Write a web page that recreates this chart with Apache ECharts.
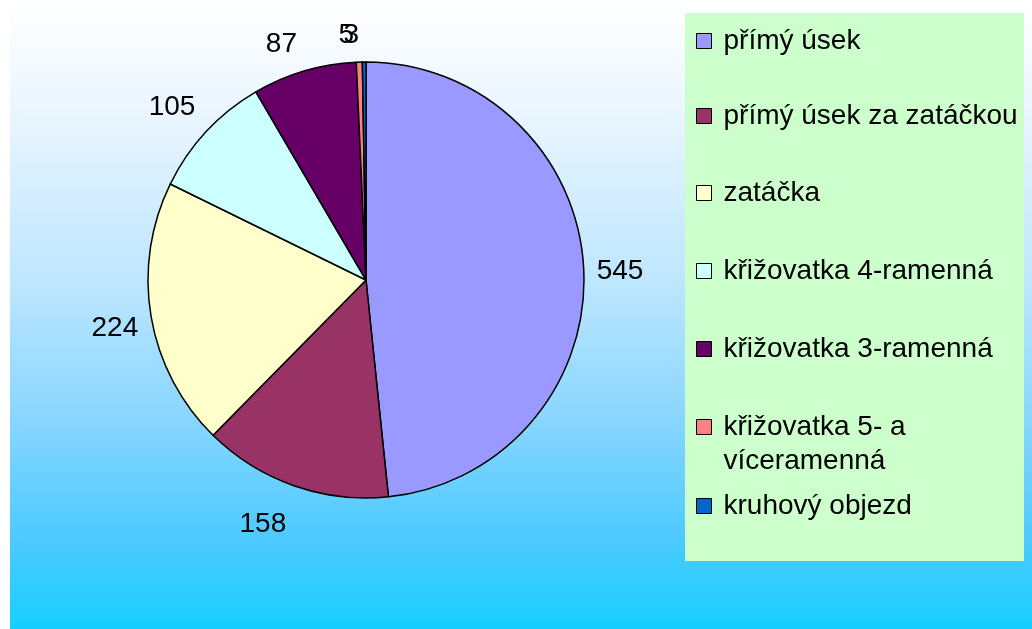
<!DOCTYPE html>
<html>
<head>
<meta charset="utf-8">
<script src="https://cdn.jsdelivr.net/npm/echarts@6/dist/echarts.min.js"></script>
<style>
html,body{margin:0;padding:0;background:#fff;}
#chart{width:1032px;height:629px;}
</style>
</head>
<body>
<div id="chart"></div>
<script>
// ---- data ----
const categories = [
  'přímý úsek',
  'přímý úsek za zatáčkou',
  'zatáčka',
  'křižovatka 4-ramenná',
  'křižovatka 3-ramenná',
  'křižovatka 5- a\nvíceramenná',
  'kruhový objezd'
];
const values = [545, 158, 224, 105, 87, 5, 3];

// ---- styles ----
const colors = ['#9999ff', '#993366', '#ffffcc', '#ccffff', '#660066', '#ff8080', '#0066cc'];
const FONT = 'Liberation Sans, Arial, sans-serif';
const FS = 28;
const CX = 366, CY = 280, R = 218;
const legendCenters = [41, 116, 193, 271, 349, 427, 506];
const LH = 34;

const chart = echarts.init(document.getElementById('chart'));

const legends = categories.map((name, i) => {
  const twoLine = name.indexOf('\n') >= 0;
  return {
    data: [name],
    left: 696,
    top: twoLine ? legendCenters[i] - LH * 1.5 : legendCenters[i] - LH / 2,
    orient: 'vertical',
    padding: 0,
    itemWidth: 15,
    itemHeight: 15,
    icon: 'rect',
    selectedMode: false,
    formatter: twoLine ? (n => '\n' + n) : '{name}',
    itemStyle: { borderColor: '#000', borderWidth: 1 },
    textStyle: {
      fontFamily: FONT,
      fontSize: FS,
      color: '#000',
      lineHeight: LH,
      padding: [0, 0, 0, 7]
    }
  };
});

const option = {
  backgroundColor: '#ffffff',
  animation: false,
  graphic: [
    {
      type: 'rect',
      z: -10,
      silent: true,
      shape: { x: 10, y: 0, width: 1022, height: 629 },
      style: {
        fill: new echarts.graphic.LinearGradient(0, 0, 0, 1, [
          { offset: 0, color: '#ffffff' },
          { offset: 0.15, color: '#eef7ff' },
          { offset: 0.45, color: '#bde6ff' },
          { offset: 0.65, color: '#8dd7ff' },
          { offset: 0.86, color: '#4ccaff' },
          { offset: 1, color: '#16cfff' }
        ])
      }
    },
    {
      type: 'rect',
      z: -5,
      silent: true,
      shape: { x: 685, y: 13, width: 339, height: 548 },
      style: { fill: '#ccffcc' }
    }
  ],
  legend: legends,
  series: [{
    type: 'pie',
    center: [CX, CY],
    radius: R,
    startAngle: 90,
    clockwise: true,
    avoidLabelOverlap: false,
    silent: true,
    emphasis: { disabled: true },
    itemStyle: { borderColor: '#000', borderWidth: 1.5 },
    label: {
      show: true,
      position: 'outside',
      formatter: '{c}',
      fontFamily: FONT,
      fontSize: FS,
      color: '#000'
    },
    labelLine: { show: false, length: 8, length2: 0 },
    labelLayout: function (p) {
      const r = p.labelRect;
      const lx = r.x + r.width / 2, ly = r.y + r.height / 2;
      const dx = lx - CX, dy = ly - CY;
      const d = Math.hypot(dx, dy) || 1;
      const uy = dy / d;
      const t = Math.max(0, Math.min(1, (Math.abs(uy) - 0.1) * 5)) * Math.sign(uy);
      return { dy: t * (t > 0 ? 28 : 22) + 3 };
    },
    data: categories.map((name, i) => ({
      name: name,
      value: values[i],
      itemStyle: { color: colors[i] }
    }))
  }]
};

chart.setOption(option);
</script>
</body>
</html>
